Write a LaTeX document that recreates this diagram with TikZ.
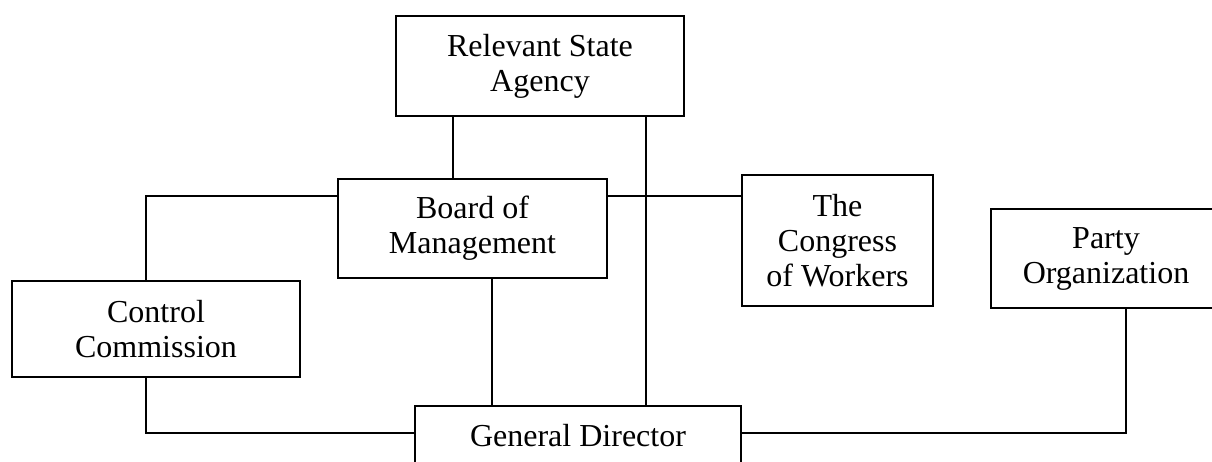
\documentclass[tikz,border=0pt]{standalone}
\usepackage{fontspec}
\setmainfont{Liberation Serif}
\begin{document}
\begin{tikzpicture}[x=1pt,y=-1pt,
  box/.style={draw, line width=1.8pt, align=center, inner sep=0pt,
    font=\fontsize{32}{35}\selectfont},
  conn/.style={line width=1.8pt}]
\useasboundingbox (0,0) rectangle (1212,461);
\node[box, minimum width=288pt, minimum height=100pt] (rsa) at (540,66) {Relevant State\\Agency};
\node[box, minimum width=269pt, minimum height=99pt] (bom) at (472.5,228.5) {Board of\\Management};
\node[box, minimum width=191pt, minimum height=131pt] (cow) at (837.5,240.5) {The\\Congress\\of Workers};
\node[box, minimum width=230pt, minimum height=99pt] (po) at (1106,258.5) {Party\\Organization};
\node[box, minimum width=288pt, minimum height=96pt] (cc) at (156,329) {Control\\Commission};
\node[box, minimum width=326pt, minimum height=60pt] (gd) at (578,436) {General Director};
% connectors
\draw[conn] (rsa.south -| 453,0) -- (bom.north -| 453,0);
\draw[conn] (rsa.south -| 646,0) -- (gd.north -| 646,0);
\draw[conn] (bom.west |- 0,196) -- (146,196) -- (cc.north -| 146,0);
\draw[conn] (bom.east |- 0,196) -- (cow.west |- 0,196);
\draw[conn] (bom.south -| 492,0) -- (gd.north -| 492,0);
\draw[conn] (cc.south -| 146,0) -- (146,433) -- (gd.west |- 0,433);
\draw[conn] (gd.east |- 0,433) -- (1126,433) -- (po.south -| 1126,0);
\end{tikzpicture}
\end{document}
